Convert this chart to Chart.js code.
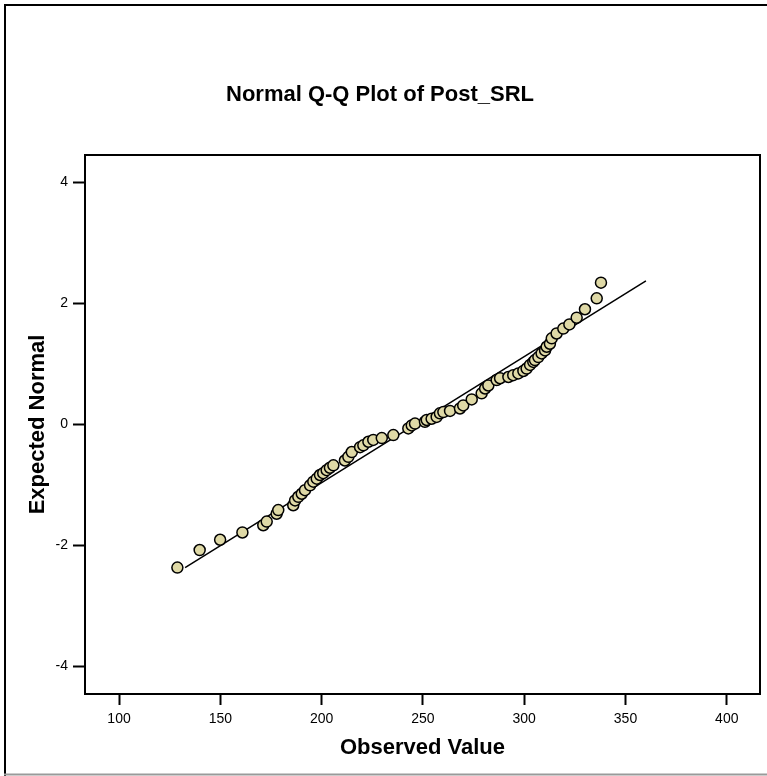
<!DOCTYPE html>
<html>
<head>
<meta charset="utf-8">
<title>Normal Q-Q Plot of Post_SRL</title>
<script src="https://cdn.jsdelivr.net/npm/chart.js@4.4.1/dist/chart.umd.min.js"></script>
<style>
  html, body { margin: 0; padding: 0; background: #fff; }
  canvas { display: block; }
</style>
</head>
<body>
<canvas id="qqChart" width="767" height="776"></canvas>
<script>
const observedValues = [
    128.8, 139.8, 149.9, 160.9, 171.2, 172.9, 177.8, 178.6, 186.0, 186.9,
    188.5, 190.2, 191.8, 194.3, 195.9, 197.6, 199.2, 200.8, 202.5, 204.1,
    205.8, 211.5, 213.2, 214.9, 219.0, 220.6, 223.1, 225.5, 229.7, 235.4,
    242.8, 244.5, 246.1, 251.0, 251.9, 254.3, 256.8, 258.4, 260.1, 263.4,
    268.3, 269.9, 274.1, 279.0, 280.7, 282.3, 286.4, 288.1, 292.2, 294.6,
    297.1, 299.6, 301.2, 302.9, 304.5, 305.3, 307.0, 308.6, 310.3, 311.1,
    312.7, 313.6, 316.0, 319.3, 322.3, 325.9, 330.0, 335.8, 337.9
];
const expectedNormal = [
    -2.37, -2.08, -1.91, -1.79, -1.67, -1.61, -1.48, -1.42, -1.34, -1.26,
    -1.20, -1.15, -1.09, -1.01, -0.95, -0.90, -0.84, -0.81, -0.76, -0.72,
    -0.68, -0.60, -0.54, -0.46, -0.38, -0.35, -0.29, -0.26, -0.23, -0.18,
    -0.07, -0.02, 0.01, 0.04, 0.07, 0.09, 0.12, 0.18, 0.20, 0.22,
    0.26, 0.31, 0.41, 0.51, 0.59, 0.64, 0.73, 0.76, 0.78, 0.81,
    0.84, 0.88, 0.92, 0.98, 1.03, 1.06, 1.11, 1.17, 1.22, 1.28,
    1.33, 1.42, 1.50, 1.58, 1.65, 1.76, 1.90, 2.08, 2.34
];

// End points of the reference line
const lineObserved = [132.6, 360.1];
const lineExpected = [-2.37, 2.37];

// Tick labels
const xTicks = [100, 150, 200, 250, 300, 350, 400];
const yTicks = [-4, -2, 0, 2, 4];

Chart.defaults.font.family = '"Liberation Sans", Arial, sans-serif';
Chart.defaults.color = '#000';

// Box round the plot area plus the outer frame of the picture
const framePlugin = {
    id: 'frame',
    afterDraw(chart) {
        const { ctx, chartArea: a } = chart;
        ctx.save();
        ctx.strokeStyle = '#000';
        ctx.lineWidth = 2;
        ctx.strokeRect(a.left, a.top, a.right - a.left, a.bottom - a.top);

        ctx.beginPath();
        ctx.moveTo(5, 776);
        ctx.lineTo(5, 5);
        ctx.lineTo(767, 5);
        ctx.stroke();
        ctx.strokeStyle = '#9a9a9a';
        ctx.beginPath();
        ctx.moveTo(4, 774.5);
        ctx.lineTo(767, 774.5);
        ctx.stroke();
        ctx.restore();
    }
};

const ctx = document.getElementById('qqChart').getContext('2d');

new Chart(ctx, {
    type: 'scatter',
    data: {
        datasets: [
            {
                label: 'Observed',
                data: observedValues.map((x, i) => ({ x: x, y: expectedNormal[i] })),
                pointRadius: 5.5,
                pointBorderWidth: 1.5,
                pointBackgroundColor: '#DFD9A6',
                pointBorderColor: '#000',
                order: 0
            },
            {
                label: 'Line',
                data: lineObserved.map((x, i) => ({ x: x, y: lineExpected[i] })),
                showLine: true,
                borderColor: '#000',
                borderWidth: 1.5,
                pointRadius: 0,
                fill: false,
                order: 1
            }
        ]
    },
    options: {
        responsive: false,
        animation: false,
        layout: { padding: { left: 0, right: 7, top: 0, bottom: 0 } },
        plugins: {
            legend: { display: false },
            tooltip: { enabled: false },
            title: {
                display: true,
                text: 'Normal Q-Q Plot of Post_SRL',
                color: '#000',
                font: { size: 22, weight: 'bold' },
                padding: { top: 82, bottom: 46.6 }
            }
        },
        scales: {
            x: {
                type: 'linear',
                min: 83.2,
                max: 416.4,
                afterBuildTicks: s => { s.ticks = xTicks.map(v => ({ value: v })); },
                afterFit: s => { s.height = 82; },
                border: { display: false },
                grid: { drawOnChartArea: false, tickLength: 11, tickWidth: 2, tickColor: '#000' },
                ticks: { font: { size: 14 }, padding: 6, color: '#000', maxRotation: 0, autoSkip: false },
                title: {
                    display: true,
                    text: 'Observed Value',
                    color: '#000',
                    font: { size: 22, weight: 'bold' },
                    padding: { top: 0, bottom: 15 }
                }
            },
            y: {
                type: 'linear',
                min: -4.46,
                max: 4.45,
                afterBuildTicks: s => { s.ticks = yTicks.map(v => ({ value: v })); },
                afterFit: s => { s.width = 85; },
                border: { display: false },
                grid: { drawOnChartArea: false, tickLength: 12, tickWidth: 2, tickColor: '#000' },
                ticks: { font: { size: 14 }, padding: 5, color: '#000', autoSkip: false },
                title: {
                    display: true,
                    text: 'Expected Normal',
                    color: '#000',
                    font: { size: 22, weight: 'bold' },
                    padding: { top: 25, bottom: 0 }
                }
            }
        }
    },
    plugins: [framePlugin]
});
</script>
</body>
</html>
